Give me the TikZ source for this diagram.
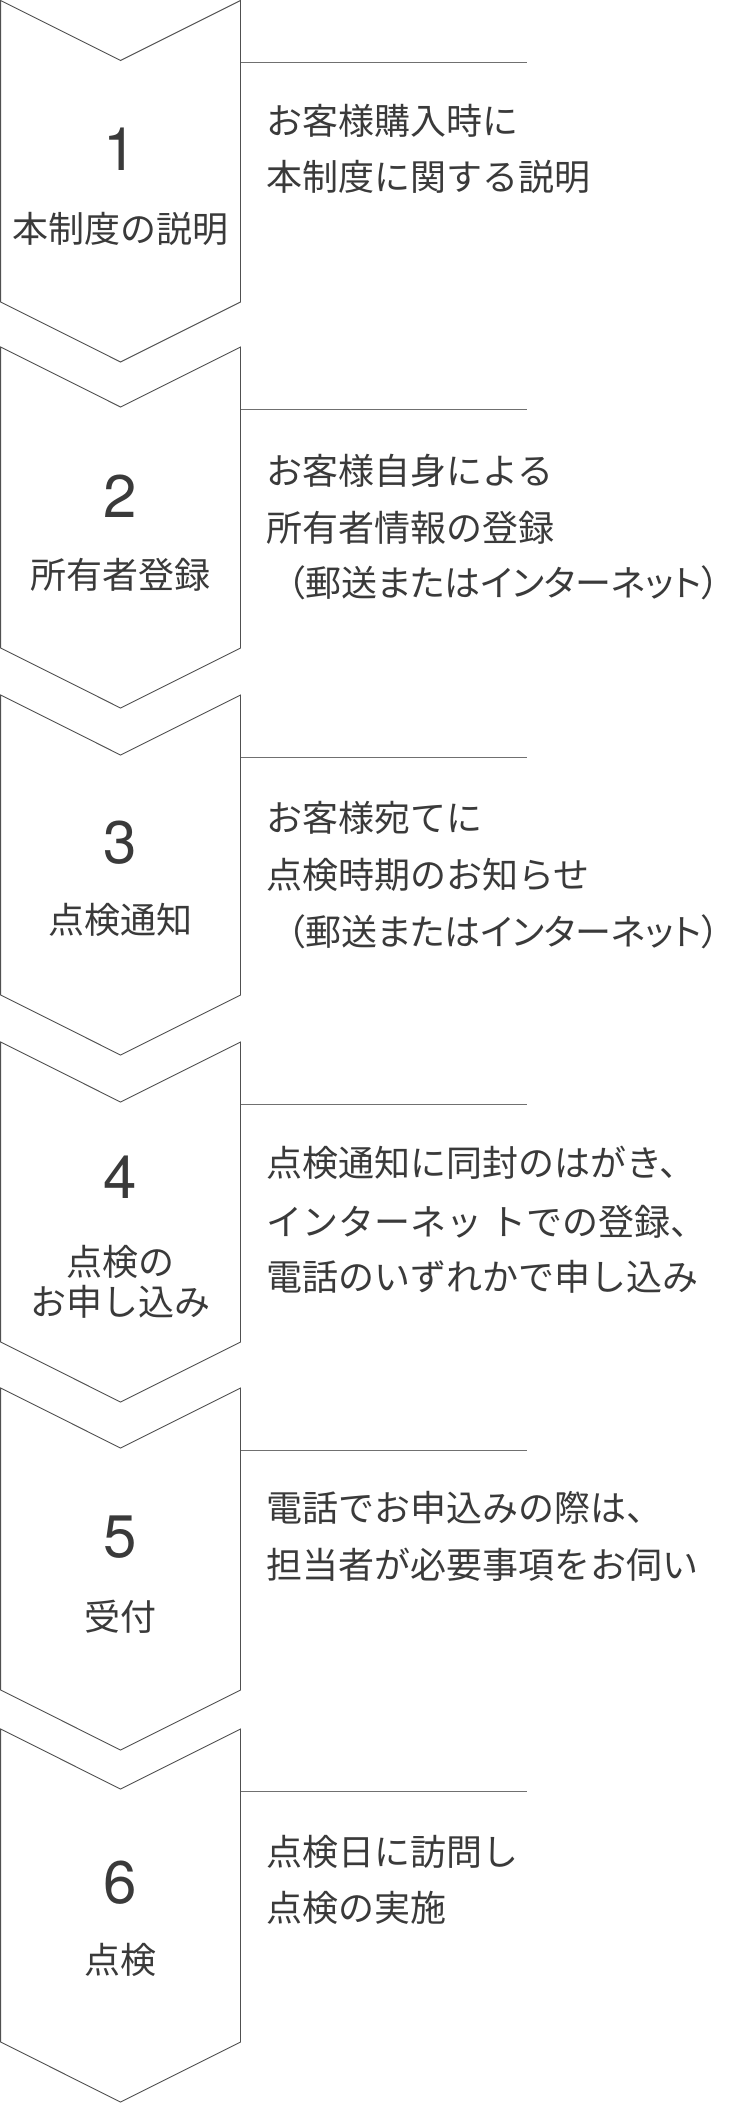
\documentclass[tikz,border=0pt]{standalone}
\usepackage{fontspec}
\newfontfamily\jp{Noto Sans CJK JP}
\newfontfamily\jpp[RawFeature=+palt]{Noto Sans CJK JP}
\newfontfamily\dig{TeX Gyre Heros}
\definecolor{txt}{HTML}{3A3A3A}
\definecolor{edgec}{HTML}{505050}
\definecolor{rulec}{HTML}{707070}
\tikzset{
  chev/.style={draw=edgec, line width=0.9pt, line join=miter},
  rulel/.style={draw=rulec, line width=1pt},
  num/.style={inner sep=0pt, text=txt, font=\dig\fontsize{60}{60}\selectfont},
  lab/.style={inner sep=0pt, text=txt, font=\jp\fontsize{36}{40}\selectfont, align=center},
  desc/.style={inner sep=0pt, text=txt, font=\jp\fontsize{36}{40}\selectfont, anchor=west},
  descp/.style={inner sep=0pt, text=txt, font=\jpp\fontsize{36}{40}\selectfont, anchor=west},
}
\begin{document}
\begin{tikzpicture}[x=1pt, y=-1pt]
\useasboundingbox (0,0) rectangle (728,2103);
\fill[white] (0,0) rectangle (728,2103);
% chevrons and rules
\foreach \i/\t/\b in {1/0.5/302, 2/347/648, 3/695/995, 4/1042/1342, 5/1388/1690, 6/1729/2042} {
  \draw[chev] (0.6,\t) -- (120.5,\t+60) -- (240.5,\t) -- (240.5,\b) -- (120.5,\b+60) -- (0.6,\b) -- cycle;
  \coordinate (r\i) at (240.5,\t+62);
  \coordinate (e\i) at (527,\t+62);
  \draw[rulel] (r\i) -- (e\i);
}
% numbers
\node[num] (n1) at (120.5,149) {1};
\node[num] (n2) at (120.5,496) {2};
\node[num] (n3) at (120.5,843) {3};
\node[num] (n4) at (120.5,1177) {4};
\node[num] (n5) at (120.5,1537) {5};
\node[num] (n6) at (120.5,1883) {6};
% labels
\node[lab] (l1) at (120.5,229) {本制度の説明};
\node[lab] (l2) at (120.5,575) {所有者登録};
\node[lab] (l3) at (120.5,920) {点検通知};
\node[lab] (l4a) at (120.5,1262) {点検の};
\node[lab] (l4b) at (120.5,1302) {お申し込み};
\node[lab] (l5) at (120.5,1617) {受付};
\node[lab] (l6) at (120.5,1960) {点検};
% descriptions
\node[desc] (d1a) at (266,121) {お客様購入時に};
\node[desc] (d1b) at (266,177) {本制度に関する説明};
\node[desc] (d2a) at (266,471) {お客様自身による};
\node[desc] (d2b) at (266,528) {所有者情報の登録};
\node[descp] (d2c) at (287,583) {（郵送またはインターネット）};
\node[desc] (d3a) at (266,818) {お客様宛てに};
\node[desc] (d3b) at (266,875) {点検時期のお知らせ};
\node[descp] (d3c) at (287,932) {（郵送またはインターネット）};
\node[desc] (d4a) at (266,1163) {点検通知に同封のはがき、};
\node[desc] (d4b) at (266,1222) {インターネッ トでの登録、};
\node[desc] (d4c) at (266,1277) {電話のいずれかで申し込み};
\node[desc] (d5a) at (266,1508) {電話でお申込みの際は、};
\node[desc] (d5b) at (266,1565) {担当者が必要事項をお伺い};
\node[desc] (d6a) at (266,1852) {点検日に訪問し};
\node[desc] (d6b) at (266,1908) {点検の実施};
\end{tikzpicture}
\end{document}
